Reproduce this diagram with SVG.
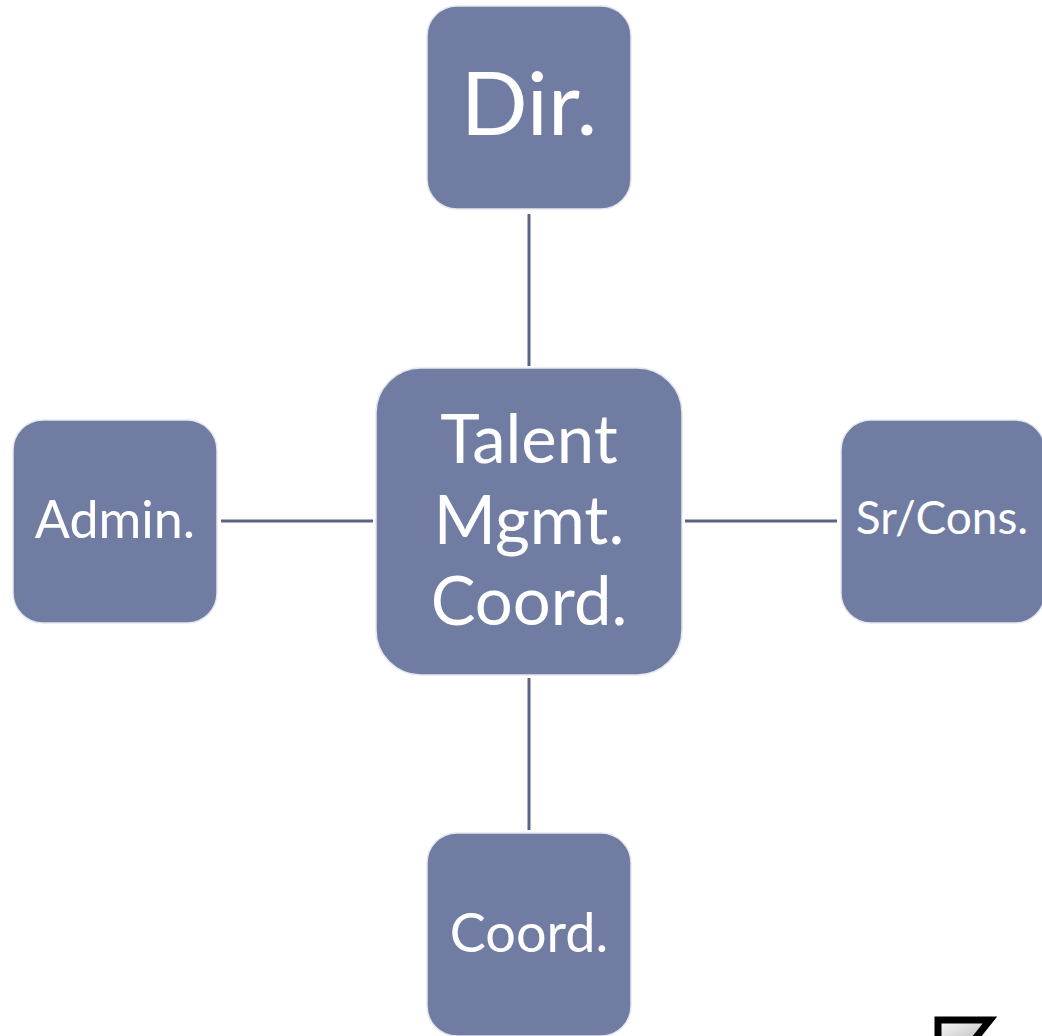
<svg xmlns="http://www.w3.org/2000/svg" width="1042" height="1036" viewBox="0 0 1042 1036">
<style>
.node{fill:#717CA3;stroke:#E4E7EE;stroke-width:1.5}
.lbl{fill:#FFFFFF;font-family:Lato,"Open Sans","Liberation Sans",sans-serif;text-anchor:middle}
.conn{stroke:#5B6386;stroke-width:3;fill:none}
</style>
<defs>
<linearGradient id="ig" x1="0" y1="0" x2="1" y2="1">
<stop offset="0" stop-color="#FFFFFF"/>
<stop offset="1" stop-color="#B0B0B0"/>
</linearGradient>
</defs>
<rect width="1042" height="1036" fill="#FFFFFF"/>
<g id="connectors">
<line class="conn" x1="529" y1="214" x2="529" y2="366"/>
<line class="conn" x1="529" y1="678" x2="529" y2="830"/>
<line class="conn" x1="221" y1="521" x2="373" y2="521"/>
<line class="conn" x1="685" y1="521" x2="837" y2="521"/>
</g>
<g id="node-dir">
<rect class="node" x="427" y="6" width="204" height="203" rx="30"/>
<text class="lbl" x="529" y="135" font-size="88">Dir.</text>
</g>
<g id="node-center">
<rect class="node" x="376" y="368" width="306" height="307" rx="45"/>
<text class="lbl" x="529" y="463" font-size="67">Talent</text>
<text class="lbl" x="529" y="544" font-size="67">Mgmt.</text>
<text class="lbl" x="529" y="625" font-size="67">Coord.</text>
</g>
<g id="node-admin">
<rect class="node" x="13" y="420" width="204" height="203" rx="30"/>
<text class="lbl" x="115" y="538" font-size="52">Admin.</text>
</g>
<g id="node-srcons">
<rect class="node" x="841" y="420" width="204" height="203" rx="30"/>
<text class="lbl" x="942" y="534" font-size="46">Sr/Cons.</text>
</g>
<g id="node-coord">
<rect class="node" x="427" y="833" width="204" height="203" rx="30"/>
<text class="lbl" x="529" y="952" font-size="54">Coord.</text>
</g>
<g id="icon">
<polygon points="938,1020 990,1020 970,1045 938,1045" fill="url(#ig)" stroke="#000000" stroke-width="7"/>
</g>
</svg>
